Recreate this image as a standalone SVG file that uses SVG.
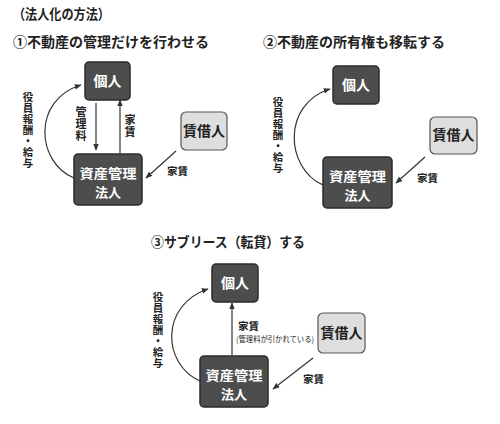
<svg xmlns="http://www.w3.org/2000/svg" width="500" height="424" viewBox="0 0 500 424">
<style>
text{font-family:"Noto Sans CJK JP","Noto Sans CJK SC",sans-serif;font-weight:bold;fill:#222}
.title{font-size:14px}
.dark rect{fill:#4d4d4d;stroke:#2b2b2b;stroke-width:1.5}
.dark text{fill:#fff;font-size:14px;text-anchor:middle}
.dark text.two{font-size:13px}
.light rect{fill:#dedede;stroke:#555;stroke-width:1.2}
.light text{font-size:14px;text-anchor:middle}
.lbl{font-size:10.5px}
.vert{font-size:11px;writing-mode:vertical-rl;text-orientation:upright}
.vl{font-size:10.5px;letter-spacing:0.5px}
.small{font-size:8px;font-weight:normal}
.conn path,.conn line{fill:none;stroke:#333;stroke-width:1.2;marker-end:url(#ah)}
</style>
<defs>
<marker id="ah" viewBox="0 0 10 10" refX="9" refY="5" markerWidth="7" markerHeight="7" orient="auto-start-reverse" markerUnits="userSpaceOnUse">
<path d="M0,1 L10,5 L0,9 Z" fill="#333"/>
</marker>
</defs>
<rect width="500" height="424" fill="#fff"/>
<text class="title" x="13" y="19" textLength="97" lengthAdjust="spacingAndGlyphs">（法人化の方法）</text>
<text class="title" x="13" y="47">①不動産の管理だけを行わせる</text>
<text class="title" x="263" y="47">②不動産の所有権も移転する</text>
<text class="title" x="151" y="247" textLength="154" lengthAdjust="spacingAndGlyphs">③サブリース（転貸）する</text>

<!-- Panel 1 -->
<g id="p1-kojin" class="dark"><rect x="85" y="62" width="45" height="38" rx="4"/><text x="107.5" y="86">個人</text></g>
<g id="p1-houjin" class="dark"><rect x="74" y="154" width="68" height="51" rx="4"/><text class="two" x="108" y="178" textLength="57" lengthAdjust="spacingAndGlyphs">資産管理</text><text class="two" x="108" y="197">法人</text></g>
<g id="p1-chin" class="light"><rect x="181" y="112" width="46" height="38" rx="5"/><text x="204" y="136">賃借人</text></g>

<!-- Panel 2 -->
<g id="p2-kojin" class="dark"><rect x="333" y="66" width="46" height="38" rx="4"/><text x="356" y="90">個人</text></g>
<g id="p2-houjin" class="dark"><rect x="323" y="157" width="69" height="51" rx="4"/><text class="two" x="357.5" y="181" textLength="57" lengthAdjust="spacingAndGlyphs">資産管理</text><text class="two" x="357.5" y="200">法人</text></g>
<g id="p2-chin" class="light"><rect x="430" y="117" width="47" height="37" rx="5"/><text x="453.5" y="140">賃借人</text></g>

<!-- Panel 3 -->
<g id="p3-kojin" class="dark"><rect x="212" y="264" width="46" height="38" rx="4"/><text x="235" y="288">個人</text></g>
<g id="p3-houjin" class="dark"><rect x="200" y="356" width="68" height="51" rx="4"/><text class="two" x="234" y="380" textLength="57" lengthAdjust="spacingAndGlyphs">資産管理</text><text class="two" x="234" y="399">法人</text></g>
<g id="p3-chin" class="light"><rect x="318" y="313" width="47" height="40" rx="5"/><text x="341.5" y="338">賃借人</text></g>

<g id="connectors" class="conn">
<line x1="96" y1="103" x2="96" y2="150"/>
<line x1="120" y1="153" x2="120" y2="100"/>
<path d="M74,178 C36,162 32,100 81,85"/>
<line x1="176" y1="151" x2="146" y2="178"/>

<path d="M323,185 C285,168 282,104 330,89"/>
<line x1="425" y1="157" x2="396" y2="183"/>

<line x1="232" y1="355" x2="232" y2="303"/>
<path d="M200,381 C162,364 160,305 208,289"/>
<line x1="313" y1="358" x2="273" y2="389"/>
</g>

<g id="labels">
<text class="vert" x="81" y="106" letter-spacing="1">管理料</text>
<text class="vert" x="130" y="114" letter-spacing="1">家賃</text>
<text class="vert vl" x="28" y="92">役員報酬・給与</text>
<text class="lbl" x="167" y="175">家賃</text>

<text class="vert vl" x="278" y="97">役員報酬・給与</text>
<text class="lbl" x="417" y="182">家賃</text>

<text class="vert vl" x="158" y="292">役員報酬・給与</text>
<text class="lbl" x="238" y="330">家賃</text>
<text class="small" x="236" y="342" textLength="78" lengthAdjust="spacingAndGlyphs">(管理料が引かれている)</text>
<text class="lbl" x="303" y="383">家賃</text>
</g>
</svg>
